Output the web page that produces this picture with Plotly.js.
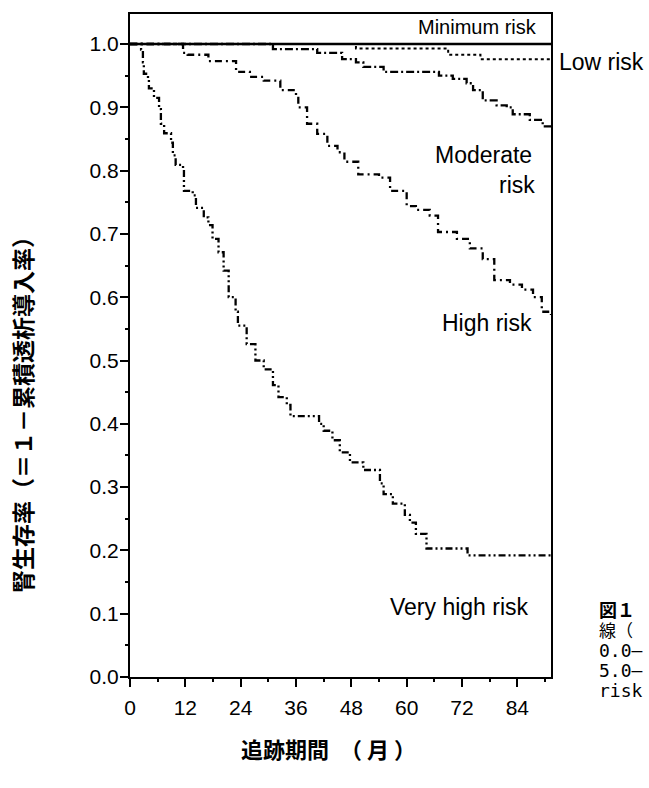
<!DOCTYPE html>
<html><head><meta charset="utf-8">
<script src="https://cdn.plot.ly/plotly-3.0.1.min.js"></script>
<style>html,body{margin:0;padding:0;background:#fff}#c{width:649px;height:788px}</style>
</head><body><div id="c"></div>
<script>
// months (追跡期間) and survival values at each step
const minT = [0, 91.3];
const minS = [1, 1];
const lowT = [0, 49, 69, 76, 91.3];
const lowS = [1, 0.993, 0.983, 0.976, 0.976];
const modT = [0, 31, 40.6, 46, 49, 50.6, 55, 67, 70, 73, 74.4, 76.5, 79.5, 81.7, 83, 86.7, 89.5, 91.3];
const modS = [1, 0.992, 0.986, 0.976, 0.971, 0.964, 0.956, 0.950, 0.945, 0.938, 0.927, 0.911, 0.903, 0.900, 0.889, 0.880, 0.870, 0.866];
const highT = [0, 11.5, 12.5, 17, 23, 26, 29, 32.6, 36, 36.5, 38.4, 40.6, 42.8, 45, 46.5, 49.5, 54, 56.4, 60, 62, 65, 66.8, 70.9, 73.7, 76.5, 79, 82.4, 85, 87.4, 89.3, 91.3];
const highS = [1, 0.986, 0.983, 0.973, 0.956, 0.948, 0.942, 0.927, 0.915, 0.900, 0.874, 0.858, 0.839, 0.829, 0.814, 0.794, 0.789, 0.768, 0.744, 0.738, 0.729, 0.703, 0.692, 0.677, 0.660, 0.627, 0.620, 0.612, 0.600, 0.577, 0.572];
const vhT = [0, 2.4, 2.8, 3, 3.9, 4.1, 5.2, 6.3, 6.7, 7.4, 8.9, 9.3, 9.9, 11.5, 11.7, 13.6, 14.3, 16, 17, 17.9, 19.2, 20.3, 21.4, 22.9, 23.4, 25.3, 27.2, 29, 31, 32.2, 34, 34.8, 41, 42, 43.9, 45.5, 47.7, 50.6, 54.2, 55, 57, 59.6, 60.7, 62, 64.3, 73.2, 91.3];
const vhS = [1, 0.991, 0.971, 0.953, 0.945, 0.930, 0.915, 0.897, 0.874, 0.859, 0.844, 0.824, 0.809, 0.802, 0.768, 0.761, 0.741, 0.726, 0.714, 0.692, 0.671, 0.642, 0.600, 0.577, 0.555, 0.526, 0.500, 0.486, 0.461, 0.442, 0.430, 0.412, 0.400, 0.389, 0.374, 0.355, 0.339, 0.327, 0.306, 0.289, 0.274, 0.256, 0.244, 0.226, 0.203, 0.192, 0.192];
const xTicks = [0, 12, 24, 36, 48, 60, 72, 84];
const yTicks = [0, 0.1, 0.2, 0.3, 0.4, 0.5, 0.6, 0.7, 0.8, 0.9, 1.0];
const seriesNames = ['Minimum risk', 'Low risk', 'Moderate risk', 'High risk', 'Very high risk'];
const captionLines = ['図１', '線（', '0.0–', '5.0–', 'risk'];

const mk = (x, y, name, dash, w) => ({x, y, name, type: 'scatter', mode: 'lines',
  line: {shape: 'hv', color: '#000', width: w, dash}, showlegend: false, hoverinfo: 'skip'});
const data = [
  mk(vhT, vhS, seriesNames[4], '7px,3px,2px,3px,2px,3px', 2.3),
  mk(highT, highS, seriesNames[3], '7px,4px,2px,4px', 2.3),
  mk(modT, modS, seriesNames[2], '8px,3px,2px,3px', 2.3),
  mk(lowT, lowS, seriesNames[1], '3px,3px', 2),
  mk(minT, minS, seriesNames[0], 'solid', 2.4)
];

const L = 130, R = 551, T = 14, B = 677, W = 649, H = 788;
const px = v => (v - L) / (R - L);
const py = v => (B - v) / (B - T);
const lab = 'Liberation Sans, Arial, sans-serif';
const jp = 'Noto Sans CJK JP, sans-serif';
const mono = 'DejaVu Sans Mono, monospace';
const ann = (text, x, y, xa, size, fam, extra) => Object.assign({text, xref: 'paper', yref: 'paper',
  x: px(x), y: py(y), xanchor: xa, yanchor: 'middle', showarrow: false, borderpad: 0,
  font: {family: fam, size, color: '#000'}}, extra || {});

const caption = [
  `<span style="font-family:Noto Sans CJK JP;font-weight:bold;font-size:18px">${captionLines[0]}</span>`,
  `<span style="font-family:Noto Sans CJK JP;font-size:17px">${captionLines[1]}</span>`,
  `<span style="font-size:18px">${captionLines[2]}</span>`,
  `<span style="font-size:18px">${captionLines[3]}</span>`,
  `<span style="font-size:18px">${captionLines[4]}</span>`
].join('<br>');

const layout = {
  width: W, height: H,
  margin: {l: L, r: W - R, t: T, b: H - B, pad: 0},
  paper_bgcolor: '#fff', plot_bgcolor: '#fff',
  xaxis: {range: [0, 91.3], tickvals: xTicks, ticktext: xTicks.map(String),
    ticks: 'outside', ticklen: 8, tickwidth: 2, tickcolor: '#000',
    showline: true, linewidth: 2, linecolor: '#000', mirror: true,
    showgrid: false, zeroline: false, ticklabelstandoff: 3,
    minor: {dtick: 6, tick0: 0, ticks: 'outside', ticklen: 3, tickwidth: 2, tickcolor: '#000'},
    tickfont: {family: lab, size: 21, color: '#000'}},
  yaxis: {range: [0, 1.0474], tickvals: yTicks, ticktext: yTicks.map(v => v.toFixed(1)),
    ticks: 'outside', ticklen: 8, tickwidth: 2, tickcolor: '#000',
    showline: true, linewidth: 2, linecolor: '#000', mirror: true,
    showgrid: false, zeroline: false, ticklabelstandoff: -3,
    minor: {dtick: 0.05, tick0: 0, ticks: 'outside', ticklen: 3, tickwidth: 2, tickcolor: '#000'},
    tickfont: {family: lab, size: 21, color: '#000'}},
  annotations: [
    ann('Minimum risk', 538, 27, 'right', 20, lab),
    ann('Low risk', 558, 62, 'left', 23, lab),
    ann('Moderate', 533, 155, 'right', 23, lab),
    ann('risk', 536, 185, 'right', 23, lab),
    ann('High risk', 533, 323, 'right', 23, lab),
    ann('Very high risk', 530, 607, 'right', 23, lab),
    ann('<b>追跡期間　（ 月 ）</b>', 240, 748, 'left', 22, jp),
    ann('<b>腎生存率（＝１－累積透析導入率）</b>', 22, 409, 'center', 23, jp, {textangle: -90}),
    ann(caption, 598, 648, 'left', 15.4, mono, {align: 'left'})
  ]
};
Plotly.newPlot('c', data, layout, {staticPlot: true});
</script></body></html>
